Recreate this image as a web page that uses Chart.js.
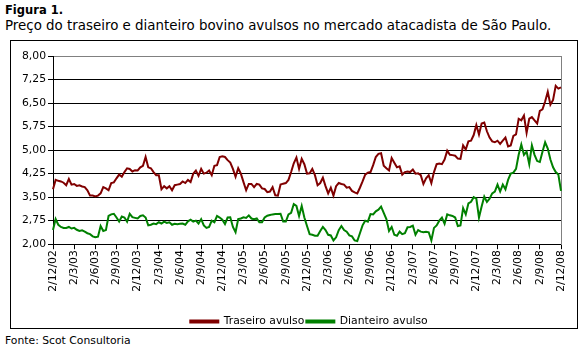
<!DOCTYPE html>
<html lang="pt">
<head>
  <meta charset="UTF-8">
  <title>Figura 1</title>
  <script src="https://cdn.jsdelivr.net/npm/chart.js@4.4.1/dist/chart.umd.min.js"></script>
  <style>
    body { margin: 0; width: 586px; height: 352px; background: #fff; position: relative; font-family: "DejaVu Sans", Verdana, sans-serif; color: #000; }
    #fig { position: absolute; left: 5px; top: 3px; font-size: 11.5px; font-weight: bold; }
    #sub { position: absolute; left: 5px; top: 18px; font-size: 13.4px; white-space: nowrap; }
    #box { position: absolute; left: 10px; top: 40px; width: 566px; height: 287px; border: 1px solid #000; }
    #fonte { position: absolute; left: 5px; top: 334px; font-size: 10.8px; }
  </style>
</head>
<body>
  <div id="fig">Figura 1.</div>
  <div id="sub">Preço do traseiro e dianteiro bovino avulsos no mercado atacadista de São Paulo.</div>
  <div id="box"><canvas id="chart" width="566" height="287"></canvas></div>
  <div id="fonte">Fonte: Scot Consultoria</div>

  <script>
    // quarterly tick labels, 8 readings per quarter between them
    const quarterLabels = ['2/12/02','2/3/03','2/6/03','2/9/03','2/12/03','2/3/04','2/6/04','2/9/04',
      '2/12/04','2/3/05','2/6/05','2/9/05','2/12/05','2/3/06','2/6/06','2/9/06','2/12/06','2/3/07',
      '2/6/07','2/9/07','2/12/07','2/3/08','2/6/08','2/9/08','2/12/08'];
    const stepsPerQuarter = 8;

    // R$/kg, traseiro avulso
    const traseiro = [
      3.75, 4.05, 4.02, 4.00, 3.96, 3.88, 4.08, 3.90,
      3.92, 3.86, 3.88, 3.84, 3.82, 3.72, 3.55, 3.55,
      3.52, 3.55, 3.62, 3.82, 3.78, 3.72, 3.95, 3.97,
      4.10, 4.22, 4.15, 4.30, 4.42, 4.40, 4.32, 4.36,
      4.35, 4.45, 4.50, 4.78, 4.45, 4.42, 4.30, 4.20,
      4.20, 3.75, 3.85, 3.78, 3.85, 3.72, 3.88, 3.90,
      3.92, 4.00, 3.95, 4.05, 3.98, 4.25, 4.35, 4.18,
      4.40, 4.25, 4.28, 4.35, 4.20, 4.50, 4.52, 4.78,
      4.80, 4.78, 4.68, 4.60, 4.40, 4.15, 4.42, 4.25,
      3.98, 3.72, 3.92, 3.92, 3.82, 3.92, 3.90, 3.78,
      3.76, 3.66, 3.68, 3.82, 3.56, 3.55, 3.90, 3.93,
      3.95, 4.05, 4.30, 4.58, 4.76, 4.40, 4.72, 4.55,
      4.25, 4.26, 4.40, 4.20, 3.88, 3.95, 4.12, 3.85,
      3.62, 3.80, 3.55, 3.85, 3.95, 3.92, 3.90, 3.80,
      3.82, 3.70, 3.65, 3.62, 3.80, 4.00, 4.22, 4.28,
      4.30, 4.52, 4.78, 4.88, 4.90, 4.50, 4.42, 4.35,
      4.75, 4.60, 4.45, 4.48, 4.22, 4.30, 4.32, 4.30,
      4.38, 4.25, 4.26, 4.20, 3.92, 4.10, 4.20, 3.95,
      4.30, 4.55, 4.57, 4.55, 4.70, 4.98, 4.85, 4.84,
      4.82, 4.73, 4.72, 5.15, 5.02, 5.28, 5.30, 5.48,
      5.80, 5.50, 5.85, 5.88, 5.60, 5.40, 5.28, 5.25,
      5.30, 5.20, 5.30, 5.40, 5.12, 5.15, 5.45, 5.50,
      6.00, 5.95, 6.10, 5.55, 6.00, 6.05, 5.95, 5.85,
      6.25, 6.30, 6.55, 6.86, 6.45, 6.60, 7.05, 6.96,
      7.00
    ];

    // R$/kg, dianteiro avulso
    const dianteiro = [
      2.45, 2.80, 2.62, 2.55, 2.52, 2.52, 2.55, 2.50,
      2.52, 2.46, 2.42, 2.44, 2.40, 2.35, 2.32, 2.25,
      2.22, 2.24, 2.58, 2.42, 2.45, 2.90, 2.95, 2.97,
      2.85, 2.72, 2.88, 2.85, 2.72, 2.97, 2.86, 2.84,
      2.82, 2.90, 2.92, 2.85, 2.60, 2.62, 2.66, 2.64,
      2.70, 2.66, 2.72, 2.68, 2.70, 2.62, 2.65, 2.64,
      2.65, 2.66, 2.62, 2.73, 2.78, 2.72, 2.75, 2.66,
      2.80, 2.60, 2.52, 2.55, 2.75, 2.70, 2.90, 2.85,
      2.78, 2.64, 2.85, 2.86, 2.55, 2.38, 2.80, 2.82,
      2.86, 2.84, 2.92, 2.82, 2.80, 2.82, 2.70, 2.70,
      2.85, 2.91, 2.93, 2.95, 2.96, 2.96, 2.97, 2.72,
      2.72, 2.95, 3.00, 3.28, 3.22, 2.90, 3.22, 2.85,
      2.58, 2.32, 2.30, 2.27, 2.27, 2.42, 2.55, 2.45,
      2.30, 2.28, 2.12, 2.22, 2.45, 2.58, 2.45, 2.40,
      2.28, 2.25, 2.12, 2.10, 2.35, 2.60, 2.75, 2.72,
      2.96, 2.95, 3.05, 3.10, 3.20, 3.00, 2.80, 2.42,
      2.55, 2.30, 2.27, 2.40, 2.32, 2.35, 2.54, 2.55,
      2.59, 2.30, 2.45, 2.40, 2.38, 2.40, 2.38, 2.12,
      2.52, 2.60, 2.75, 2.85, 2.65, 2.95, 2.92, 2.90,
      2.85, 2.58, 2.60, 3.15, 2.95, 3.30, 3.35, 3.50,
      3.45, 2.85, 3.20, 3.52, 3.35, 3.45, 3.62, 3.68,
      3.90, 3.68, 3.90, 3.75, 4.05, 4.25, 4.28, 4.40,
      4.85, 5.18, 4.85, 4.95, 4.55, 5.15, 4.85, 4.65,
      4.62, 4.95, 5.25, 5.05, 4.70, 4.45, 4.30, 4.22,
      3.70
    ];

    const labels = traseiro.map((v, i) => i % stepsPerQuarter === 0 ? quarterLabels[i / stepsPerQuarter] : '');
    const fnt = { family: '"DejaVu Sans", Verdana, sans-serif', size: 10.8 };

    new Chart(document.getElementById('chart'), {
      type: 'line',
      data: {
        labels: labels,
        datasets: [{
          label: 'Traseiro avulso',
          data: traseiro,
          borderColor: '#800000',
          backgroundColor: '#800000',
          borderWidth: 2,
          pointRadius: 0,
          tension: 0
        }, {
          label: 'Dianteiro avulso',
          data: dianteiro,
          borderColor: '#008000',
          backgroundColor: '#008000',
          borderWidth: 2,
          pointRadius: 0,
          tension: 0
        }]
      },
      options: {
        responsive: false,
        animation: false,
        events: [],
        layout: { padding: { top: 15, left: 0, right: 0, bottom: -9 } },
        scales: {
          x: {
            offset: false,
            grid: {
              drawOnChartArea: false,
              tickLength: 5,
              tickColor: ctx => labels[ctx.index] ? '#000' : 'rgba(0,0,0,0)'
            },
            border: { color: '#000' },
            ticks: {
              autoSkip: false,
              maxRotation: 90,
              minRotation: 90,
              padding: 1,
              color: '#000',
              font: fnt,
              callback: (v, i) => labels[i]
            },
            afterFit: s => { s.height = 70; }
          },
          y: {
            min: 2,
            max: 8,
            ticks: {
              stepSize: 0.75,
              color: '#000',
              font: fnt,
              padding: 2,
              callback: v => v.toFixed(2).replace('.', ',')
            },
            grid: {
              color: ctx => ctx.tick && ctx.tick.value === 8 ? '#808080' : '#000',
              tickColor: '#000',
              tickLength: 5
            },
            border: { color: '#000' },
            afterFit: s => { s.width = 42; }
          },
          yR: {
            position: 'right',
            min: 2,
            max: 8,
            ticks: { display: false },
            grid: { display: false },
            border: { color: '#808080' },
            afterFit: s => { s.width = 16; }
          }
        },
        plugins: {
          legend: {
            position: 'bottom',
            labels: {
              color: '#000',
              font: fnt,
              boxWidth: 28,
              boxHeight: 2,
              padding: 2
            }
          },
          tooltip: { enabled: false }
        }
      },
      plugins: [{
        // the legend sits a little right of centre in the original
        id: 'legendShift',
        afterLayout(chart) {
          chart.legend.left += 15;
          chart.legend.right += 15;
        }
      }]
    });
  </script>
</body>
</html>
